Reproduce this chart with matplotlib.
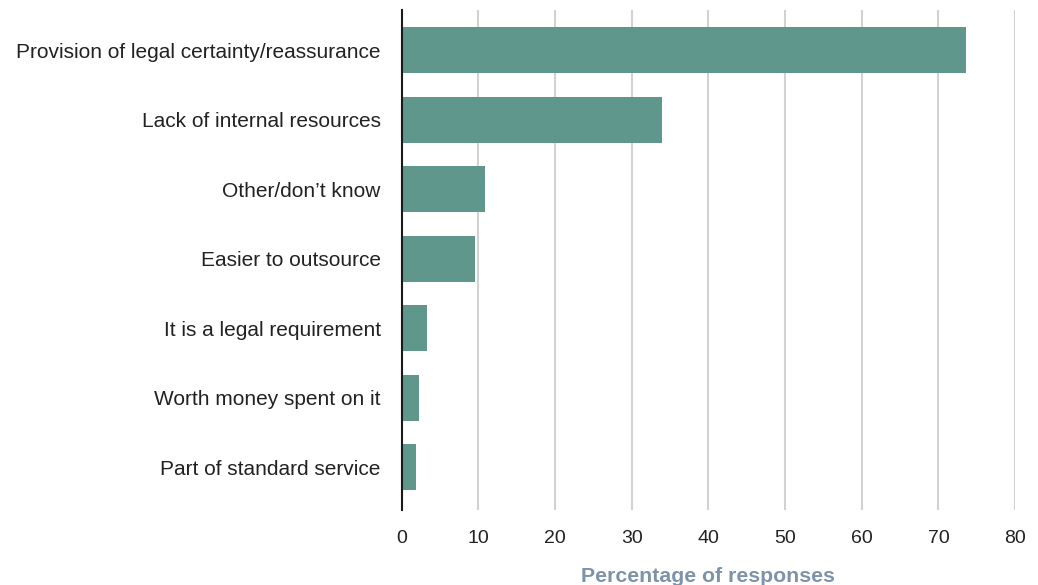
import matplotlib
matplotlib.use("Agg")
import matplotlib.pyplot as plt

categories = [
    "Provision of legal certainty/reassurance",
    "Lack of internal resources",
    "Other/don\u2019t know",
    "Easier to outsource",
    "It is a legal requirement",
    "Worth money spent on it",
    "Part of standard service",
]
values = [73.6, 34.0, 10.8, 9.5, 3.3, 2.3, 1.9]
x_ticks = [0, 10, 20, 30, 40, 50, 60, 70, 80]

plt.rcParams["font.family"] = ["Liberation Sans", "DejaVu Sans"]

fig = plt.figure(figsize=(10.38, 5.85), dpi=100)
ax = fig.add_axes([0.387, 0.128, 0.591, 0.855])

positions = list(range(len(categories)))
ax.barh(positions, values, height=0.66, color="#60978C", zorder=3)

ax.set_xlim(0, 80)
ax.set_ylim(6.62, -0.58)
ax.set_xticks(x_ticks)
ax.set_xticklabels([str(t) for t in x_ticks])
ax.set_yticks(positions)
ax.set_yticklabels(categories)

ax.grid(axis="x", color="#d2d2d2", linewidth=1.5, zorder=0)
for side in ("top", "right", "bottom"):
    ax.spines[side].set_visible(False)
ax.spines["left"].set_color("#1a1a1a")
ax.spines["left"].set_linewidth(1.5)
ax.spines["left"].set_zorder(4)

ax.tick_params(axis="both", length=0, labelcolor="#222222")
ax.tick_params(axis="x", pad=14, labelsize=14)
ax.tick_params(axis="y", pad=15, labelsize=15)

ax.set_xlabel("Percentage of responses", fontsize=15.3, fontweight="bold",
              color="#7d93aa", labelpad=15)

fig.savefig("out.png", dpi=100)
